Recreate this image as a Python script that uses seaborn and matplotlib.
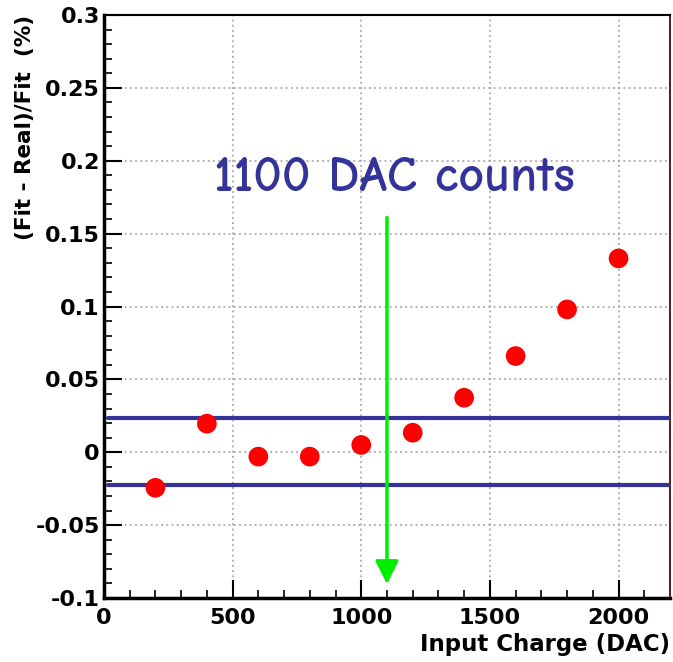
import matplotlib
matplotlib.use("Agg")
import matplotlib.pyplot as plt
import seaborn as sns
import pandas as pd
from matplotlib.ticker import MultipleLocator, FixedLocator, FixedFormatter

# Residuals of the charge calibration fit
charge = [200, 400, 600, 800, 1000, 1200, 1400, 1600, 1800, 2000]
residual = [-0.0244, 0.0196, -0.0030, -0.0030, 0.0050, 0.0134, 0.0374, 0.0660, 0.0980, 0.1330]

band = [-0.0222, 0.0235]          # tolerance band (%)
marker_charge = 1100              # DAC counts
marker_span = [0.161, -0.0905]    # arrow start / end in y

y_ticks = [-0.1, -0.05, 0, 0.05, 0.1, 0.15, 0.2, 0.25, 0.3]
y_labels = ["-0.1", "-0.05", "0", "0.05", "0.1", "0.15", "0.2", "0.25", "0.3"]
x_ticks = [0, 500, 1000, 1500, 2000]
x_labels = ["0", "500", "1000", "1500", "2000"]

df = pd.DataFrame({"charge": charge, "residual": residual})

sns.set_theme(style="white")
plt.rcParams["font.family"] = ["DejaVu Sans"]

fig = plt.figure(figsize=(6.73, 6.62), dpi=100)
ax = fig.add_axes([0.1545, 0.0967, 0.8410, 0.8806])

ax.set_xlim(0, 2200)
ax.set_ylim(-0.1, 0.3)

ax.grid(True, which="major", color="#9a9a9a", linestyle=(0, (1.2, 2.2)), linewidth=1.1)
ax.set_axisbelow(True)

for y in band:
    ax.axhline(y, xmin=4 / 566, xmax=1, color="#333399", linewidth=3, zorder=3)

sns.scatterplot(data=df, x="charge", y="residual", ax=ax, color="#ff0000",
                s=200, edgecolor="none", zorder=4, legend=False)

ax.annotate("", xy=(marker_charge, marker_span[1]), xytext=(marker_charge, marker_span[0]),
            arrowprops=dict(arrowstyle="-|>,head_length=0.7,head_width=0.35",
                            mutation_scale=20, color="#00ee00", lw=2.5,
                            shrinkA=0, shrinkB=0), zorder=5)
ax.text(1128, 0.188, "1100 DAC counts", ha="center", va="center",
        fontsize=36, fontweight="bold", color="#333399",
        family=["Comic Neue", "Open Sans", "DejaVu Sans"])

ax.yaxis.set_major_locator(FixedLocator(y_ticks))
ax.yaxis.set_major_formatter(FixedFormatter(y_labels))
ax.yaxis.set_minor_locator(MultipleLocator(0.01))
ax.xaxis.set_major_locator(FixedLocator(x_ticks))
ax.xaxis.set_major_formatter(FixedFormatter(x_labels))
ax.xaxis.set_minor_locator(MultipleLocator(100))

ax.tick_params(axis="both", which="major", direction="in", length=13, width=1.5,
               color="black", labelsize=16, labelcolor="black")
ax.tick_params(axis="x", which="major", pad=7)
ax.tick_params(axis="y", which="major", pad=3)
ax.tick_params(axis="both", which="minor", direction="in", length=6, width=1.2, color="black")
ax.tick_params(axis="both", which="both", top=False, right=False, bottom=True, left=True)
for lab in ax.get_xticklabels() + ax.get_yticklabels():
    lab.set_fontweight("bold")

for side in ["left", "bottom"]:
    ax.spines[side].set_linewidth(2.5)
    ax.spines[side].set_color("black")
ax.spines["top"].set_linewidth(1.5)
ax.spines["top"].set_color("black")
ax.spines["right"].set_linewidth(1.5)
ax.spines["right"].set_color("#4a2a2a")

ax.set_xlabel("Input Charge (DAC)", fontsize=16.5, fontweight="bold", color="black",
              ha="right", x=1.0, labelpad=4)
ax.set_ylabel("(Fit - Real)/Fit  (%)", fontsize=15.5, fontweight="bold", color="black",
              ha="right", y=1.0, labelpad=0)

fig.savefig("out.png", dpi=100)
